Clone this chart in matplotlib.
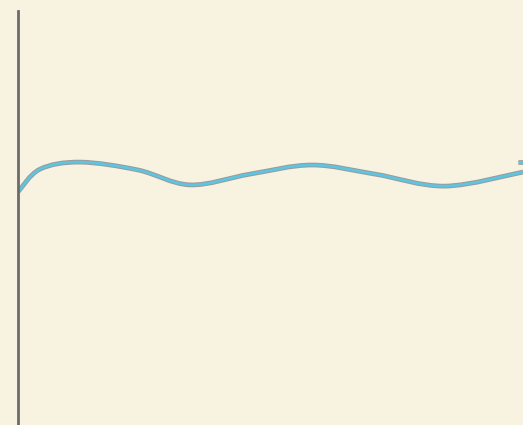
import numpy as np
import matplotlib
matplotlib.use("Agg")
import matplotlib.pyplot as plt
import matplotlib.patheffects as pe
from matplotlib.path import Path
from matplotlib.patches import PathPatch

# series knots (x position, value)
x_vals = [0, 22, 62, 120, 172, 232, 294, 357, 427, 505]
y_vals = [56.3, 61.8, 63.5, 61.6, 58.0, 60.6, 62.8, 60.6, 57.7, 61.1]

# short end marker
marker_x = [500, 505]
marker_y = [63.5, 63.5]

BG = "#f8f2e0"
LINE = "#5ec4e0"
EDGE = "#9a9a9a"


def smooth_path(xs, ys):
    # Catmull-Rom segments written as cubic bezier curves
    pts = np.column_stack([xs, ys]).astype(float)
    padded = np.vstack([pts[0], pts, pts[-1]])
    verts = [tuple(pts[0])]
    codes = [Path.MOVETO]
    for i in range(1, len(padded) - 2):
        p0, p1, p2, p3 = padded[i - 1], padded[i], padded[i + 1], padded[i + 2]
        c1 = p1 + (p2 - p0) / 6.0
        c2 = p2 - (p3 - p1) / 6.0
        verts += [tuple(c1), tuple(c2), tuple(p2)]
        codes += [Path.CURVE4] * 3
    return Path(verts, codes)


fig = plt.figure(figsize=(5.23, 4.25), dpi=100, facecolor=BG)
ax = fig.add_axes([18 / 523, 0, 1 - 18 / 523, 414 / 425])
ax.set_facecolor(BG)

outline = [pe.Stroke(linewidth=3.4, foreground=EDGE), pe.Normal()]
patch = PathPatch(smooth_path(x_vals, y_vals), facecolor="none",
                  edgecolor=LINE, linewidth=2.0, capstyle="butt")
patch.set_path_effects(outline)
ax.add_patch(patch)

ax.plot(marker_x, marker_y, color=LINE, linewidth=2.0,
        solid_capstyle="butt", path_effects=outline)

ax.set_xlim(0, 505)
ax.set_ylim(0, 100)
for side in ["top", "right", "bottom"]:
    ax.spines[side].set_visible(False)
ax.spines["left"].set_color("#6b6b6b")
ax.spines["left"].set_linewidth(2)
ax.set_xticks([])
ax.set_yticks([])

fig.savefig("out.png", dpi=100, facecolor=BG)
